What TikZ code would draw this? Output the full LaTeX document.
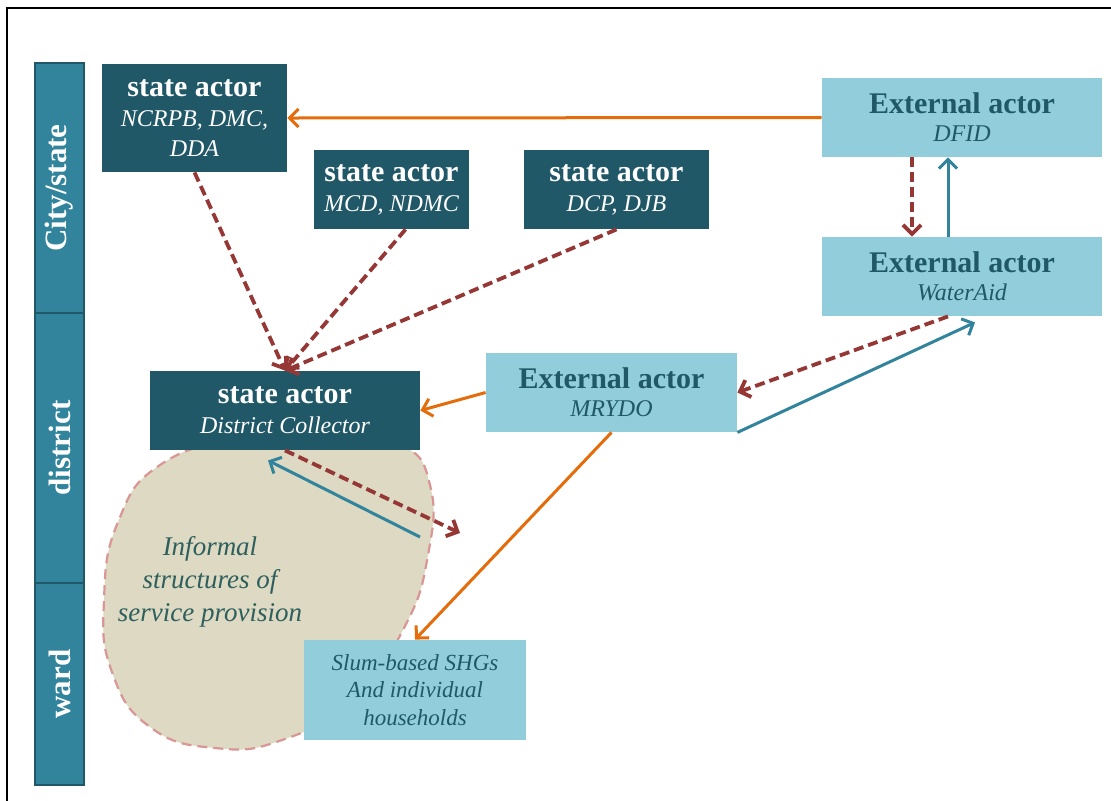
\documentclass[tikz,border=0pt]{standalone}
\usepackage{fontspec}
\setmainfont{Liberation Serif}
\usetikzlibrary{arrows.meta,calc}
\definecolor{darkteal}{HTML}{215868}
\definecolor{lightblue}{HTML}{92CDDC}
\definecolor{bandteal}{HTML}{31849B}
\definecolor{arroworange}{HTML}{E46C0A}
\definecolor{darkred}{HTML}{953735}
\definecolor{blobfill}{HTML}{DDD9C3}
\definecolor{blobline}{HTML}{D99694}
\definecolor{blobtext}{HTML}{2E5F5C}
\begin{document}
\begin{tikzpicture}[x=0.5pt,y=-0.5pt,
  stateactor/.style={fill=darkteal,text=white,align=center,inner sep=0pt,font=\fontsize{12}{15}\selectfont\itshape},
  extactor/.style={fill=lightblue,text=darkteal,align=center,inner sep=0pt,font=\fontsize{12}{14}\selectfont\itshape},
  band/.style={fill=bandteal,draw=darkteal,line width=0.8pt,rotate=90,text=white,inner sep=0pt,minimum height=24.5pt,font=\fontsize{15.5}{18}\selectfont\bfseries},
  orangearrow/.style={arroworange,line width=1.5pt,-{Straight Barb[length=4.5pt,width=9pt]}},
  redarrow/.style={darkred,line width=1.9pt,dash pattern=on 5pt off 2.5pt,-{Straight Barb[length=4.5pt,width=9pt]}},
  tealarrow/.style={bandteal,line width=1.5pt,-{Straight Barb[length=4.5pt,width=9pt]}}]
\clip (0,0) rectangle (1111,800);
\fill[white] (0,0) rectangle (1111,800);
\draw[line width=1pt] (7,8) rectangle (1125,815);
\node[band,minimum width=125pt] (citystate) at (59.5,188) {City/state};
\node[band,minimum width=135pt] (district) at (59.5,448) {district};
\node[band,minimum width=101pt] (ward) at (59.5,684) {ward};
\draw[blobline,fill=blobfill,line width=1.1pt,dash pattern=on 5pt off 3pt] plot[smooth cycle,tension=0.8] coordinates {(330,440) (400,445) (430,485) (428,555) (404,628) (352,700) (282,740) (215,748) (150,727) (112,672) (104,600) (118,522) (160,465) (240,440)};
\node[text=blobtext,align=center,font=\fontsize{13.5}{16.5}\selectfont\itshape] (informal) at (210,582) {Informal\\structures of\\service provision};
\node[stateactor,minimum width=92.5pt,minimum height=54pt] (ncrpb) at (194.5,118) {{\fontsize{15}{18}\selectfont\bfseries\upshape state actor}\\NCRPB, DMC,\\DDA};
\node[stateactor,minimum width=77.5pt,minimum height=39.5pt] (mcd) at (391.5,189.5) {{\fontsize{15}{18}\selectfont\bfseries\upshape state actor}\\MCD, NDMC};
\node[stateactor,minimum width=92.5pt,minimum height=39.5pt] (dcp) at (616.5,189.5) {{\fontsize{15}{18}\selectfont\bfseries\upshape state actor}\\DCP, DJB};
\node[stateactor,minimum width=135pt,minimum height=39.5pt] (dc) at (285,410.5) {{\fontsize{15}{18}\selectfont\bfseries\upshape state actor}\\District Collector};
\node[extactor,minimum width=140pt,minimum height=39.5pt] (dfid) at (962,117.5) {{\fontsize{15}{18}\selectfont\bfseries\upshape External actor}\\DFID};
\node[extactor,minimum width=140pt,minimum height=39.5pt] (wateraid) at (962,276.5) {{\fontsize{15}{18}\selectfont\bfseries\upshape External actor}\\WaterAid};
\node[extactor,minimum width=125.5pt,minimum height=39.5pt] (mrydo) at (611.5,392.5) {{\fontsize{15}{18}\selectfont\bfseries\upshape External actor}\\MRYDO};
\node[extactor,minimum width=111pt,minimum height=50pt,font=\fontsize{11.5}{13.8}\selectfont\itshape] (shg) at (415,690) {Slum-based SHGs\\And individual\\households};
\coordinate (tiptoaid) at ($(wateraid.south)+(13,6)$);
\coordinate (dcout) at (460,533);
\coordinate (blobin) at (420,537);
\draw[orangearrow] (dfid.west) -- (ncrpb.east);
\draw[redarrow] (ncrpb.south) -- (dc.north);
\draw[redarrow] ($(mcd.south)+(14,0)$) -- (dc.north);
\draw[redarrow] (dcp.south) -- (dc.north);
\draw[redarrow] ($(dfid.south)+(-50,0)$) -- ($(wateraid.north)+(-50,0)$);
\draw[tealarrow] ($(wateraid.north)+(-14,0)$) -- ($(dfid.south)+(-14,0)$);
\draw[redarrow] ($(wateraid.south)+(-14,0)$) -- (mrydo.east);
\draw[tealarrow] (mrydo.south east) -- (tiptoaid);
\draw[orangearrow] (mrydo.west) -- (dc.east);
\draw[orangearrow] (mrydo.south) -- (shg.north);
\draw[redarrow] (dc.south) -- (dcout);
\draw[tealarrow] (blobin) -- ($(dc.south)+(-17,10)$);
\end{tikzpicture}
\end{document}
